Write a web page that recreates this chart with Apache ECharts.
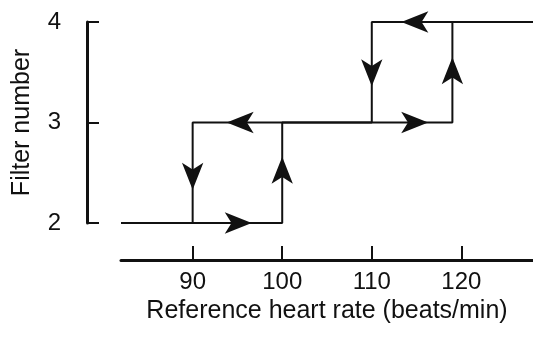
<!DOCTYPE html>
<html>
<head>
<meta charset="utf-8">
<script src="https://cdn.jsdelivr.net/npm/echarts@6/dist/echarts.min.js"></script>
<style>
html,body{margin:0;padding:0;background:#fff;}
#chart{width:533px;height:347px;}
</style>
</head>
<body>
<div id="chart"></div>
<script>
// Ascending heart rate path (filter switches up)
const ascendX = [82, 100, 100, 119, 119, 128];
const ascendY = [2, 2, 3, 3, 4, 4];
// Descending heart rate path (filter switches down)
const descendX = [128, 110, 110, 90, 90, 82];
const descendY = [4, 4, 3, 3, 2, 2];
// Arrow heads along the hysteresis loop (tip positions)
const arrowX = [96.6, 100, 116.3, 119, 113.3, 110, 93.8, 90];
const arrowY = [2, 2.66, 3, 3.65, 4, 3.36, 3, 2.33];
const arrowDir = ['right', 'up', 'right', 'up', 'left', 'down', 'left', 'down'];
// Axis ticks
const xTicks = [90, 100, 110, 120];
const yTicks = [2, 3, 4];

const rot = {up: 0, left: 90, down: 180, right: -90};
const font = '"Liberation Sans", Arial, Helvetica, sans-serif';
const ink = '#111';

const chart = echarts.init(document.getElementById('chart'), null, {renderer: 'canvas'});
chart.setOption({
  animation: false,
  backgroundColor: '#fff',
  grid: {left: 121, right: 0, top: 22, bottom: 124, containLabel: false, outerBoundsMode: 'none'},
  xAxis: {
    type: 'value', min: 82, max: 128, offset: 37,
    splitLine: {show: false},
    axisLine: {show: true, lineStyle: {color: ink, width: 3}},
    axisTick: {show: true, inside: true, length: 14, lineStyle: {color: ink, width: 2},
      customValues: xTicks},
    axisLabel: {show: true, color: ink, fontSize: 24, fontFamily: font, margin: 10,
      customValues: xTicks},
    name: 'Reference heart rate (beats/min)', nameLocation: 'middle', nameGap: 39,
    nameTextStyle: {color: ink, fontSize: 25, fontFamily: font}
  },
  yAxis: {
    type: 'value', min: 2, max: 4, interval: 1, offset: 34,
    splitLine: {show: false},
    axisLine: {show: true, lineStyle: {color: ink, width: 3}},
    axisTick: {show: true, inside: true, length: 12, lineStyle: {color: ink, width: 2},
      customValues: yTicks},
    axisLabel: {show: true, color: ink, fontSize: 24, fontFamily: font, margin: 26,
      customValues: yTicks},
    name: 'Filter number', nameLocation: 'middle', nameGap: 52,
    nameTextStyle: {color: ink, fontSize: 25, fontFamily: font}
  },
  series: [
    {
      type: 'line', showSymbol: false, clip: false,
      data: ascendX.map((x, i) => [x, ascendY[i]]),
      lineStyle: {color: ink, width: 2}
    },
    {
      type: 'line', showSymbol: false, clip: false,
      data: descendX.map((x, i) => [x, descendY[i]]),
      lineStyle: {color: ink, width: 2}
    },
    {
      type: 'scatter', symbol: 'arrow', symbolSize: [16, 27],
      data: arrowX.map((x, i) => ({value: [x, arrowY[i]], symbolRotate: rot[arrowDir[i]]})),
      itemStyle: {color: ink, opacity: 1}
    }
  ]
});
</script>
</body>
</html>
